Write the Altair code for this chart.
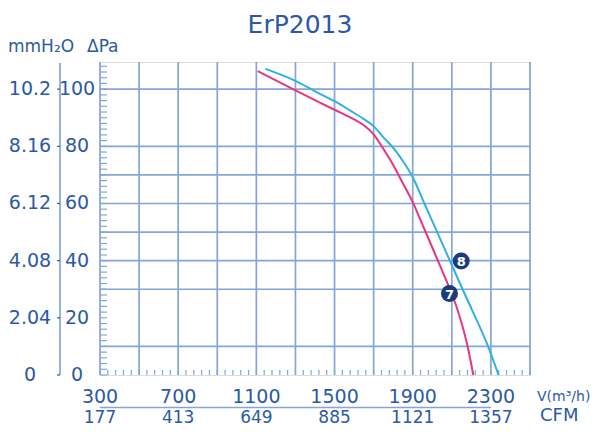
import altair as alt
import pandas as pd

# ---- data ----
P7_X = [1107, 1300, 1500, 1600, 1650, 1700, 1747, 1798, 1850, 1900, 1951, 2000, 2050, 2090, 2121, 2155, 2181, 2210]
P7_Y = [106.3, 99.6, 92.8, 89.4, 87.4, 84.2, 79.4, 73.7, 67.0, 60.5, 52.4, 44.6, 36.6, 30.0, 24.5, 17.0, 10.0, 0.0]
P8_X = [1146, 1300, 1410, 1502, 1578, 1646, 1702, 1747, 1806, 1849, 1900, 1960, 2025, 2090, 2155, 2222, 2280, 2339]
P8_Y = [107.1, 102.9, 98.9, 95.7, 92.6, 89.7, 86.9, 83.4, 79.0, 74.9, 69.2, 60.0, 50.0, 40.0, 30.0, 20.0, 11.0, 0.0]

MARK_NAMES = ["7", "8"]
MARK_X = [2088, 2148]
MARK_Y = [28.5, 39.9]

X_GRID = [300, 500, 700, 900, 1100, 1300, 1500, 1700, 1900, 2100, 2300, 2500]
Y_GRID = [10, 30, 40, 50, 60, 70, 80, 100]
X_LABELS = [300, 700, 1100, 1500, 1900, 2300]
CFM_LABELS = ["177", "413", "649", "885", "1121", "1357"]
PA_TICKS = [0, 20, 40, 60, 80, 100]
MM_LABELS = ["0", "2.04", "4.08", "6.12", "8.16", "10.2"]
Y_MINOR = list(range(0, 110, 2))
X_MINOR = list(range(300, 2501, 40))

TEXT = "#2b59a6"
GRID = "#84a5dc"
PINK = "#e8357f"
CYAN = "#2fb0e6"
NAVY = "#1c3b7e"
FONT = "DejaVu Sans"
W, H = 430, 313

xs = alt.Scale(domain=[300, 2500], nice=False, zero=False)
ys = alt.Scale(domain=[0, 109.5], nice=False, zero=False)

curves = pd.DataFrame({
    "x": P7_X + P8_X,
    "y": P7_Y + P8_Y,
    "s": ["7"] * len(P7_X) + ["8"] * len(P8_X),
})
marks = pd.DataFrame({"x": MARK_X, "y": MARK_Y, "n": MARK_NAMES})
xg = pd.DataFrame({"x": X_GRID})
yg = pd.DataFrame({"y": Y_GRID})
xl = pd.DataFrame({"x": X_LABELS, "cfm": CFM_LABELS, "t": [str(v) for v in X_LABELS]})
yl = pd.DataFrame({"y": PA_TICKS, "mm": MM_LABELS, "t": [str(v) for v in PA_TICKS]})
ym = pd.DataFrame({"y": Y_MINOR})
xm = pd.DataFrame({"x": X_MINOR})
xline = pd.DataFrame({"x": [X_LABELS[0]], "x2": [X_LABELS[-1]]})
one = pd.DataFrame({"a": [0]})

X = lambda f="x": alt.X(f"{f}:Q", scale=xs, axis=None)
Y = lambda f="y": alt.Y(f"{f}:Q", scale=ys, axis=None)

vgrid = alt.Chart(xg).mark_rule(color=GRID, strokeWidth=1.7).encode(x=X())
hgrid = alt.Chart(yg).mark_rule(color=GRID, strokeWidth=1.7).encode(y=Y())
lminor = alt.Chart(ym).mark_rule(color=GRID, strokeWidth=1.2).encode(
    y=Y(), x=alt.value(0), x2=alt.value(7))
bminor = alt.Chart(xm).mark_rule(color=GRID, strokeWidth=1.2).encode(
    x=X(), y=alt.value(H), y2=alt.value(H - 5))

lines = alt.Chart(curves).mark_line(strokeWidth=2, interpolate="monotone").encode(
    x=X(), y=Y(),
    color=alt.Color("s:N", scale=alt.Scale(domain=MARK_NAMES, range=[PINK, CYAN]), legend=None),
)
dots = alt.Chart(marks).mark_point(filled=True, shape="circle", size=290, opacity=1, color=NAVY).encode(
    x=X(), y=Y())
dot_txt = alt.Chart(marks).mark_text(color="white", font=FONT, fontSize=13, fontWeight="bold",
                                     baseline="middle", align="center", dy=1).encode(
    x=X(), y=Y(), text="n:N")

pa_lab = alt.Chart(yl).mark_text(color=TEXT, font=FONT, fontSize=19, align="center",
                                 baseline="middle").encode(
    y=Y(), x=alt.value(-23), text="t:N")
mm_lab = alt.Chart(yl).mark_text(color=TEXT, font=FONT, fontSize=19, align="center",
                                 baseline="middle").encode(
    y=Y(), x=alt.value(-70), text="mm:N")
mm_axis = alt.Chart(one).mark_rule(color=GRID, strokeWidth=1.7).encode(
    x=alt.value(-40), y=alt.value(1), y2=alt.value(H))
mm_ticks = alt.Chart(yl).mark_rule(color=TEXT, strokeWidth=1.2).encode(
    y=Y(), x=alt.value(-43), x2=alt.value(-40))

x_lab = alt.Chart(xl).mark_text(color=TEXT, font=FONT, fontSize=19, align="center",
                                baseline="alphabetic").encode(
    x=X(), y=alt.value(341), text="t:N")
x_rule = alt.Chart(xline).mark_rule(color=GRID, strokeWidth=1.7).encode(
    x=X(), x2="x2:Q", y=alt.value(345.5))
cfm_lab = alt.Chart(xl).mark_text(color=TEXT, font=FONT, fontSize=17, align="center",
                                  baseline="alphabetic").encode(
    x=X(), y=alt.value(361), text="cfm:N")

def label(txt, x, y, size, align="left", baseline="alphabetic"):
    return alt.Chart(one).mark_text(text=txt, color=TEXT, font=FONT, fontSize=size,
                                    align=align, baseline=baseline).encode(
        x=alt.value(x), y=alt.value(y))

v_unit = label("V(m³/h)", 437, 339, 14)
cfm_unit = label("CFM", 440, 359, 18)
title = label("ErP2013", 200, -29, 25, align="center")
mm_head = label("mmH₂O", -92, -10, 17)
pa_head = label("ΔPa", -13, -10, 17)

chart = alt.layer(
    vgrid, hgrid, lminor, bminor, lines, dots, dot_txt,
    pa_lab, mm_lab, mm_axis, mm_ticks, x_lab, x_rule, cfm_lab,
    v_unit, cfm_unit, title, mm_head, pa_head,
).properties(
    width=W, height=H,
    autosize=alt.AutoSizeParams(type="none"),
    padding={"left": 92, "top": 54, "right": 61, "bottom": 53},
).configure_view(
    stroke=GRID, strokeWidth=2,
).configure(background="white")

chart.save("out.html", embed_options={"renderer": "svg", "actions": False})
